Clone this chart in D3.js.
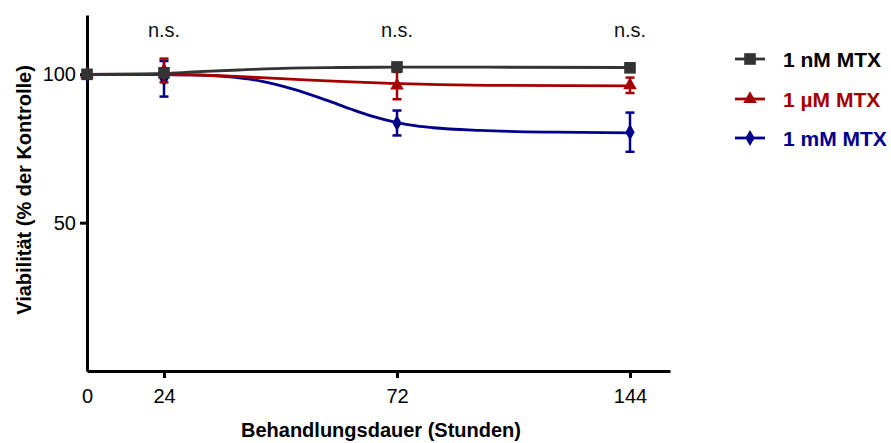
<!DOCTYPE html>
<html>
<head>
<meta charset="utf-8">
<script src="https://cdn.jsdelivr.net/npm/d3@7"></script>
<style>
  body { margin: 0; background: #fff; }
  svg { display: block; font-family: "Liberation Sans", Arial, sans-serif; }
</style>
</head>
<body>
<svg id="chart" width="891" height="443"></svg>
<script>
// Treatment time points (hours) and tick labels
const hours = [0, 24, 72, 144];
const xTicks = [0, 24, 72, 144];
const yTicks = [50, 100];

// Mean viability (% of control) and SD per concentration
const nMMean = [100, 100.5, 102.5, 102.2];
const nMSd   = [0, 1.2, 0.6, 0.6];
const uMMean = [100, 101.3, 96.2, 96.3];
const uMSd   = [0, 4.0, 4.6, 2.6];
const mMMean = [100, 98.5, 83.6, 80.5];
const mMSd   = [0, 6.0, 4.2, 6.6];

// Fitted curves: [hour, viability]
const nMFit = [[0,100],[24,100.3],[30,100.8],[40,101.5],[50,102.1],[60,102.3],[72,102.4],[100,102.4],[144,102.3]];
const uMFit = [[0,100],[24,99.9],[34,99.6],[44,98.9],[52,98.2],[60,97.6],[72,96.9],[85,96.5],[100,96.3],[144,96.1]];
const mMFit = [[0,100],[24,99.95],[30,99.8],[37,99.2],[44,97.7],[50.6,95.0],[57.6,91.2],[62.3,88.4],[67,85.8],[72,83.7],[78,82.6],[83.1,82.0],[97.7,81.1],[121,80.5],[144,80.3]];

const seriesNames = ["1 nM MTX", "1 µM MTX", "1 mM MTX"];
const seriesColors = ["#333333", "#a50000", "#00008b"];
const significance = ["n.s.", "n.s.", "n.s."];
const sigHours = [24, 72, 144];

const series = [
  { name: seriesNames[0], color: seriesColors[0], mean: nMMean, sd: nMSd, fit: nMFit, symbol: d3.symbolSquare, size: 135 },
  { name: seriesNames[1], color: seriesColors[1], mean: uMMean, sd: uMSd, fit: uMFit, symbol: d3.symbolTriangle, size: 80 },
  { name: seriesNames[2], color: seriesColors[2], mean: mMMean, sd: mMSd, fit: mMFit, symbol: d3.symbolDiamond, size: 75 }
];

const svg = d3.select("#chart");

// Time axis is segmented: each interval has its own width
const x = d3.scaleLinear()
  .domain([0, 24, 72, 144, 156.4])
  .range([87, 164, 397, 630, 670]);
const y = d3.scaleLinear().domain([0, 120]).range([371, 15]);

const gx = svg.append("g")
  .attr("transform", `translate(0,${y(0)})`)
  .call(d3.axisBottom(x).tickValues(xTicks).tickSize(7).tickPadding(11).tickSizeOuter(0));
const gy = svg.append("g")
  .attr("transform", `translate(${x(0)},0)`)
  .call(d3.axisLeft(y).tickValues(yTicks).tickSize(7).tickPadding(4).tickSizeOuter(0));

[gx, gy].forEach(g => {
  g.select(".domain").attr("stroke", "#000").attr("stroke-width", 3);
  g.selectAll(".tick line").attr("stroke", "#000").attr("stroke-width", 3);
  g.selectAll(".tick text").attr("fill", "#000").attr("font-size", 20)
    .attr("font-family", "Liberation Sans, Arial, sans-serif");
});
gx.selectAll(".tick").filter(d => d === 0).select("line").remove();

// Axis titles
svg.append("text")
  .attr("x", 381).attr("y", 437)
  .attr("text-anchor", "middle")
  .attr("font-size", 20).attr("font-weight", "bold")
  .text("Behandlungsdauer (Stunden)");
svg.append("text")
  .attr("transform", `translate(31,190) rotate(-90)`)
  .attr("text-anchor", "middle")
  .attr("font-size", 20).attr("font-weight", "bold")
  .text("Viabilität (% der Kontrolle)");

// Fitted curves
const line = d3.line()
  .x(d => x(d[0])).y(d => y(d[1]))
  .curve(d3.curveMonotoneX);

// Draw back-to-front: 1 mM, 1 µM, 1 nM
[2, 1, 0].forEach(i => {
  const s = series[i];
  svg.append("path")
    .datum(s.fit)
    .attr("fill", "none")
    .attr("stroke", s.color)
    .attr("stroke-width", 2.8)
    .attr("d", line);
});

[2, 1, 0].forEach(i => {
  const s = series[i];
  const g = svg.append("g");
  const pts = hours.map((h, k) => ({ h, m: s.mean[k], sd: s.sd[k] }));
  // error bars
  const eb = g.selectAll(".eb").data(pts.filter(p => p.sd > 0)).join("g");
  eb.append("line")
    .attr("x1", p => x(p.h)).attr("x2", p => x(p.h))
    .attr("y1", p => y(p.m + p.sd)).attr("y2", p => y(p.m - p.sd))
    .attr("stroke", s.color).attr("stroke-width", 2.5);
  [1, -1].forEach(sgn => {
    eb.append("line")
      .attr("x1", p => x(p.h) - 4.5).attr("x2", p => x(p.h) + 4.5)
      .attr("y1", p => y(p.m + sgn * p.sd)).attr("y2", p => y(p.m + sgn * p.sd))
      .attr("stroke", s.color).attr("stroke-width", 2.5);
  });
  // markers
  g.selectAll(".mk").data(pts).join("path")
    .attr("transform", p => `translate(${x(p.h)},${y(p.m)})`)
    .attr("d", d3.symbol().type(s.symbol).size(s.size))
    .attr("fill", s.color);
});

// Significance annotations
svg.selectAll(".sig").data(sigHours).join("text")
  .attr("x", d => x(d)).attr("y", 37)
  .attr("text-anchor", "middle")
  .attr("font-size", 20)
  .attr("fill", "#111")
  .text((d, i) => significance[i]);

// Legend
const legend = svg.append("g");
const legendRows = [59, 99, 138];
series.forEach((s, i) => {
  const ly = legendRows[i];
  legend.append("line")
    .attr("x1", 735).attr("x2", 765).attr("y1", ly).attr("y2", ly)
    .attr("stroke", s.color).attr("stroke-width", 2.8);
  legend.append("path")
    .attr("transform", `translate(750,${ly})`)
    .attr("d", d3.symbol().type(s.symbol).size(s.size))
    .attr("fill", s.color);
  legend.append("text")
    .attr("x", 783).attr("y", ly + 7.5)
    .attr("font-size", 21).attr("font-weight", "bold")
    .attr("fill", i === 0 ? "#000" : s.color)
    .text(s.name);
});
</script>
</body>
</html>
